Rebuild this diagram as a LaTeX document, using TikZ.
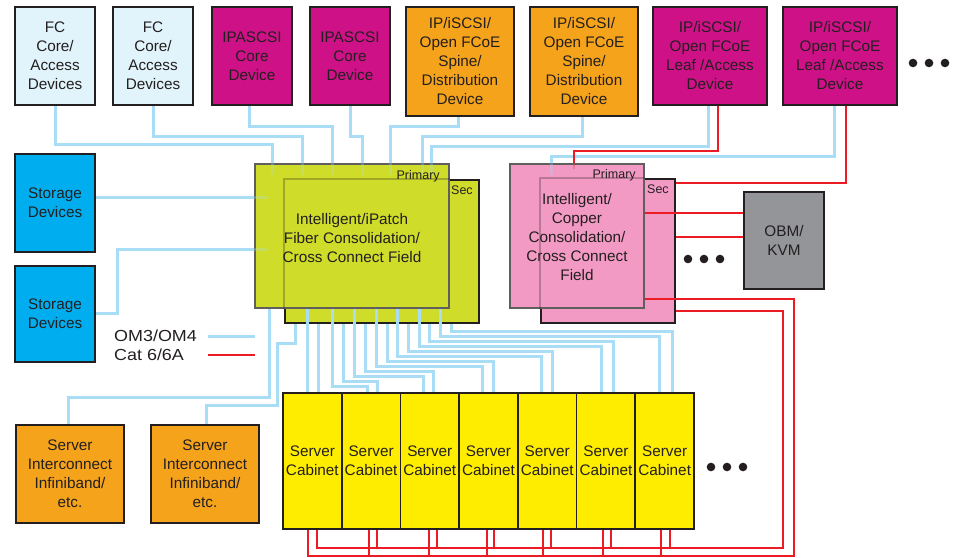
\documentclass[tikz,border=0pt]{standalone}
\usepackage{fontspec}
\setmainfont{Liberation Sans}
\newfontfamily\legendfont[FakeStretch=1.12]{Liberation Sans}
\usetikzlibrary{calc}

\definecolor{ink}{HTML}{231F20}
\definecolor{fcblue}{HTML}{E1F3FB}
\definecolor{devmag}{HTML}{CE1187}
\definecolor{devorange}{HTML}{F6A31C}
\definecolor{storeblue}{HTML}{00AEEF}
\definecolor{fibgreen}{HTML}{CFDC2A}
\definecolor{cupink}{HTML}{F39AC4}
\definecolor{obmgrey}{HTML}{939598}
\definecolor{cabyellow}{HTML}{FFED00}
\definecolor{omblue}{HTML}{A8DDF5}
\definecolor{catred}{HTML}{ED1C24}

\pgfdeclarelayer{wires}
\pgfdeclarelayer{secondary}
\pgfdeclarelayer{overwires}
\pgfdeclarelayer{ghost}
\pgfsetlayers{wires,secondary,overwires,main,ghost}

\tikzset{
  box/.style={draw=ink, line width=1.8pt, text=ink, align=center, inner sep=0pt,
              font=\fontsize{15.3}{19}\selectfont},
  primarypanel/.style={box, draw=ink!72},
  om/.style={draw=omblue, line width=3pt},
  cat/.style={draw=catred, line width=2.8pt},
  showthrough/.style={opacity=0.28},
  tag/.style={text=ink, inner sep=0pt, font=\fontsize{12.5}{14}\selectfont},
  legendtext/.style={text=ink, inner sep=0pt, anchor=west,
              font=\legendfont\fontsize{16}{18}\selectfont},
}

\begin{document}
\begin{tikzpicture}[x=1pt,y=-1pt]
\useasboundingbox (0,0) rectangle (961,557);

% ---------- top row of devices ----------
\node[box, fill=fcblue, minimum width=80pt, minimum height=98pt] (fc1) at (55,56) {FC\\Core/\\Access\\Devices};
\node[box, fill=fcblue, minimum width=80pt, minimum height=98pt] (fc2) at (153,56) {FC\\Core/\\Access\\Devices};
\node[box, fill=devmag, minimum width=80pt, minimum height=98pt] (ip1) at (252,56) {IPASCSI\\Core\\Device};
\node[box, fill=devmag, minimum width=80pt, minimum height=98pt] (ip2) at (350,56) {IPASCSI\\Core\\Device};
\node[box, fill=devorange, minimum width=108pt, minimum height=109pt] (sp1) at (460,61.5) {IP/iSCSI/\\Open FCoE\\Spine/\\Distribution\\Device};
\node[box, fill=devorange, minimum width=108pt, minimum height=109pt] (sp2) at (584,61.5) {IP/iSCSI/\\Open FCoE\\Spine/\\Distribution\\Device};
\node[box, fill=devmag, minimum width=114pt, minimum height=98pt] (lf1) at (710,56) {IP/iSCSI/\\Open FCoE\\Leaf /Access\\Device};
\node[box, fill=devmag, minimum width=114pt, minimum height=98pt] (lf2) at (840,56) {IP/iSCSI/\\Open FCoE\\Leaf /Access\\Device};
\fill[ink] (913,63) circle (4.3pt) (929,63) circle (4.3pt) (945,63) circle (4.3pt);

% ---------- storage ----------
\node[box, fill=storeblue, minimum width=80pt, minimum height=98pt] (st1) at (55,203) {Storage\\Devices};
\node[box, fill=storeblue, minimum width=80pt, minimum height=96pt] (st2) at (55,314) {Storage\\Devices};

% ---------- consolidation panels ----------
\begin{pgfonlayer}{secondary}
\node[box, fill=fibgreen, minimum width=194pt, minimum height=143pt] (fibS) at (382,251.5) {};
\node[box, fill=cupink, minimum width=134pt, minimum height=144pt] (cuS) at (608,251) {};
\end{pgfonlayer}
\node[tag, anchor=east] at ($(fibS.north east)+(-7,11)$) {Sec};
\node[tag, anchor=east] at ($(cuS.north east)+(-7,11)$) {Sec};

\node[primarypanel, fill=fibgreen, minimum width=194pt, minimum height=144pt] (fibP) at (352,236) {};
\node[primarypanel, fill=cupink, minimum width=134pt, minimum height=144pt] (cuP) at (577,236) {};

% the secondary panels and the cable tails show faintly through the primary panels
\begin{pgfonlayer}{ghost}
\draw[ink, line width=1.8pt, showthrough] (fibS.west |- fibP.south) -- (fibS.north west) -- (fibS.north -| fibP.east);
\draw[ink, line width=1.8pt, showthrough] (cuS.west |- cuP.south) -- (cuS.north west) -- (cuS.north -| cuP.east);
\foreach \x in {272,302,332,362,390,422,431}
  \draw[om, showthrough] (fibP.north -| \x,0) -- ++(0,12);
\draw[om, showthrough] (fibP.west |- 0,197) -- ++(14,0);
\draw[om, showthrough] (fibP.west |- 0,249) -- ++(14,0);
\draw[om, showthrough] (cuP.north -| 551,0) -- ++(0,12);
\draw[cat, showthrough] (cuP.north -| 574,0) -- ++(0,6);
\node[box, draw=none] (fibtext) at (352,238) {Intelligent/iPatch\\Fiber Consolidation/\\Cross Connect Field};
\node[box, draw=none] (cutext) at (577,237) {Intelligent/\\Copper\\Consolidation/\\Cross Connect\\Field};
\node[tag, anchor=east] at ($(fibP.north east)+(-10,13)$) {Primary};
\node[tag, anchor=east] at ($(cuP.north east)+(-9,12)$) {Primary};
\end{pgfonlayer}

\node[box, fill=obmgrey, minimum width=80pt, minimum height=97pt] (obm) at (784,240.5) {OBM/\\KVM};
\fill[ink] (688,259) circle (4.3pt) (704,259) circle (4.3pt) (720,259) circle (4.3pt);

% ---------- server side ----------
\node[box, fill=devorange, minimum width=108pt, minimum height=98pt] (si1) at (70,474) {Server\\Interconnect\\Infiniband/\\etc.};
\node[box, fill=devorange, minimum width=108pt, minimum height=98pt] (si2) at (205,474) {Server\\Interconnect\\Infiniband/\\etc.};
\foreach \i in {0,...,6}
  \node[box, fill=cabyellow, minimum width=58.714pt, minimum height=136pt] (cab\i)
    at (312.357+58.714*\i,461) {Server\\Cabinet};
\fill[ink] (711,467) circle (4.3pt) (727,467) circle (4.3pt) (743,467) circle (4.3pt);

% ---------- legend ----------
\node[legendtext] (lgom) at (114,336) {OM3/OM4};
\node[legendtext] (lgcat) at (114,355) {Cat 6/6A};
\coordinate (omA) at (208,336);  \coordinate (omB) at (255,336);
\coordinate (catA) at (208,355); \coordinate (catB) at (255,355);
\draw[om] (omA) -- (omB);
\draw[cat] (catA) -- (catB);

% ---------- links into the primary panels ----------
\begin{pgfonlayer}{wires}
\draw[om] (fc1.south) |- (272,144) -- (fibP.north -| 272,0);
\draw[om] (fc2.south) |- (302,136) -- (fibP.north -| 302,0);
\draw[om] ($(ip1.south)+(-3,0)$) |- (332,126) -- (fibP.north -| 332,0);
\draw[om] (ip2.south) |- (362,136) -- (fibP.north -| 362,0);
\draw[om] ($(sp1.south)+(-2,0)$) |- (390,126) -- (fibP.north -| 390,0);
\draw[om] ($(sp2.south)+(-2,0)$) |- (422,136) -- (fibP.north -| 422,0);
\draw[om] ($(lf1.south)+(-2,0)$) |- (431,146) -- (fibP.north -| 431,0);
\draw[om] ($(lf2.south)+(-6,0)$) |- (551,156) -- (cuP.north -| 551,0);
\draw[om] (st1.east |- 0,197) -- (fibP.west |- 0,197);
\draw[om] (st2.east |- 0,313) -| (117,249) -- (fibP.west |- 0,249);
\draw[cat] ($(lf1.south)+(8,0)$) |- (574,151) -- (cuP.north -| 574,0);
\draw[cat] ($(lf2.south)+(6,0)$) |- (cuS.east |- 0,183);
\end{pgfonlayer}

% ---------- links leaving the panels ----------
\begin{pgfonlayer}{overwires}
% fibre to the server cabinets
\draw[om] (fibP.south -| 307,0) -- (cab0.north -| 307,0);
\draw[om] (fibS.south -| 318,0) -- (cab0.north -| 318,0);
\draw[om] (fibP.south -| 332,0) |- (367,386) -- (cab1.north -| 367,0);
\draw[om] (fibS.south -| 343,0) |- (377,381) -- (cab1.north -| 377,0);
\draw[om] (fibP.south -| 354,0) |- (423,376) -- (cab2.north -| 423,0);
\draw[om] (fibS.south -| 365,0) |- (433,371) -- (cab2.north -| 433,0);
\draw[om] (fibP.south -| 376,0) |- (482,366) -- (cab3.north -| 482,0);
\draw[om] (fibS.south -| 387,0) |- (493,361) -- (cab3.north -| 493,0);
\draw[om] (fibP.south -| 397,0) |- (541,356) -- (cab4.north -| 541,0);
\draw[om] (fibS.south -| 408,0) |- (552,351) -- (cab4.north -| 552,0);
\draw[om] (fibP.south -| 419,0) |- (601,346) -- (cab5.north -| 601,0);
\draw[om] (fibS.south -| 429,0) |- (613,341) -- (cab5.north -| 613,0);
\draw[om] (fibP.south -| 440,0) |- (659,336) -- (cab6.north -| 659,0);
\draw[om] (fibS.south -| 451,0) |- (672,331) -- (cab6.north -| 672,0);
% fibre to the server interconnects
\draw[om] (fibP.south -| 269,0) |- (68,397) -- (si1.north -| 68,0);
\draw[om] (fibS.south -| 295,0) |- (277,343) |- (206,405) -- (si2.north -| 206,0);
% copper to OBM/KVM
\draw[cat] (cuP.east |- 0,213) -- (obm.west |- 0,213);
\draw[cat] (cuS.east |- 0,237) -- (obm.west |- 0,237);
% copper loops under the cabinets
\draw[cat] (cuP.east |- 0,299) -| (794,556) -| (cab0.south -| 308,0);
\draw[cat] (cuS.east |- 0,311) -| (783,548) -| (cab0.south -| 317,0);
\foreach \c/\xo/\xi in {1/369/377, 2/429/437, 3/487/494, 4/543/551, 5/603/611, 6/661/670} {
  \draw[cat] (cab\c.south -| \xo,0) -- (\xo,556);
  \draw[cat] (cab\c.south -| \xi,0) -- (\xi,548);
}
\end{pgfonlayer}
\end{tikzpicture}
\end{document}
